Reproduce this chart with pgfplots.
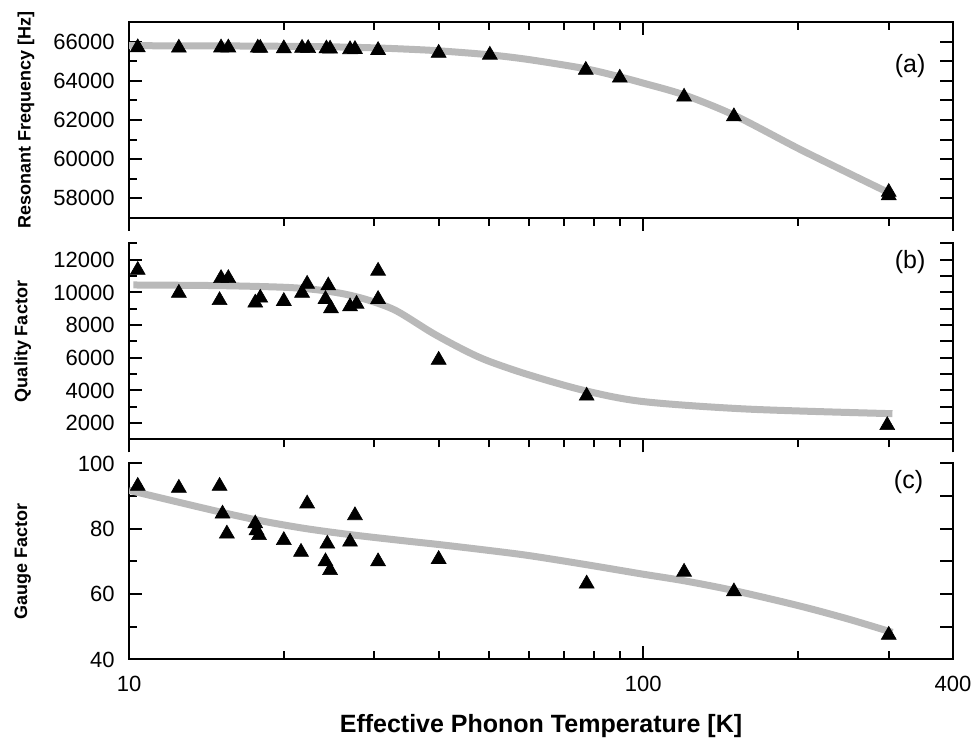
\documentclass[border=0pt]{standalone}
\usepackage{pgfplots}
\pgfplotsset{compat=1.18}
\usepackage{fontspec}
\setmainfont{Liberation Sans}
\definecolor{fitgray}{RGB}{185,185,185}
\pgfplotsset{
  every axis/.append style={
    scale only axis, width=412pt, height=98pt,
    scaled y ticks=false, scaled x ticks=false,
    axis line style={line width=1pt, line cap=rect},
    tick style={line width=1pt, black},
    major tick length=6.5pt, minor tick length=4pt,
    tick label style={font=\fontsize{11}{13}\selectfont},
    yticklabel style={inner sep=0pt, xshift=-7pt},
    xticklabel style={inner sep=0pt, yshift=-8pt},
  },
}
\begin{document}
\begin{tikzpicture}
\path[use as bounding box] (0,0) rectangle (488pt,-371pt);
% ---------------- panel (a)
\begin{axis}[xmode=log, xmin=10, xmax=400, anchor=north west, at={(64.5pt,-11pt)}, ymin=57000, ymax=67000,
  axis x line*=bottom, axis y line*=left, xtick pos=left, ytick pos=left,
  xtick align=outside, ytick align=inside,
  xtick={10,100,400}, minor xtick={20,30,40,50,60,70,80,90,200,300}, xticklabels={},
  ytick={58000,60000,62000,64000,66000}, yticklabels={58000,60000,62000,64000,66000},
  minor ytick={57000,59000,61000,63000,65000,67000},
  ylabel={Resonant Frequency [Hz]},
  ylabel style={font=\bfseries\fontsize{9}{11}\selectfont, anchor=center, at={(axis description cs:-0.125,0.5)}}]
\addplot[fitgray, line width=3.5pt, smooth, no markers] table {
10 65790
15 65780
20 65760
25 65730
30 65680
35 65610
40 65530
50 65330
60 65080
77 64620
90 64200
100 63880
120 63280
150 62250
200 60550
250 59300
305 58200
};
\addplot[only marks, mark=triangle*, mark size=4.3pt, mark options={fill=black, draw=black, line width=0.3pt}] table {
10.4 65700
12.5 65680
15.1 65690
15.6 65690
17.8 65680
18.0 65670
20.0 65650
21.7 65670
22.3 65660
24.2 65640
24.6 65630
26.9 65600
27.5 65610
30.5 65560
40.0 65420
50.3 65320
77.3 64550
90.0 64150
120 63180
150 62180
300 58320
300 58150
};
\node[font=\fontsize{12.5}{15}\selectfont] at (axis description cs:0.948,0.776) {(a)};
\end{axis}
\begin{axis}[xmode=log, xmin=10, xmax=400, anchor=north west, at={(64.5pt,-11pt)}, ymin=57000, ymax=67000,
  axis x line*=top, axis y line*=right, xtick pos=right, ytick pos=right,
  xtick align=inside, ytick align=inside, xticklabels={}, yticklabels={},
  xtick={10,100,400}, minor xtick={20,30,40,50,60,70,80,90,200,300},
  ytick={57000,58000,...,67000}, minor ytick={}]
\addplot[draw=none, forget plot] coordinates {(20,60000)};
\end{axis}
% ---------------- panel (b)
\begin{axis}[xmode=log, xmin=10, xmax=400, anchor=north west, at={(64.5pt,-121.75pt)}, ymin=1000, ymax=13000,
  axis x line*=bottom, axis y line*=left, xtick pos=left, ytick pos=left,
  xtick align=outside, ytick align=inside,
  xtick={10,100,400}, minor xtick={20,30,40,50,60,70,80,90,200,300}, xticklabels={},
  ytick={2000,4000,6000,8000,10000,12000}, yticklabels={2000,4000,6000,8000,10000,12000},
  minor ytick={1000,3000,5000,7000,9000,11000,13000},
  ylabel={Quality Factor},
  ylabel style={font=\bfseries\fontsize{9}{11}\selectfont, anchor=center, at={(axis description cs:-0.129,0.5)}}]
\addplot[fitgray, line width=3.5pt, smooth, no markers] table {
10.2 10460
15 10420
20 10320
23 10180
26 9930
29 9560
33 8900
39 7500
45 6450
50 5800
60 4950
77 3990
100 3320
160 2860
305 2580
};
\addplot[only marks, mark=triangle*, mark size=4.3pt, mark options={fill=black, draw=black, line width=0.3pt}] table {
10.4 11370
12.5 9970
15.1 10870
15.6 10870
15.0 9520
17.6 9370
18.0 9670
20.0 9470
21.7 9970
22.2 10520
24.4 10420
24.1 9590
24.7 9020
26.9 9140
27.7 9300
30.5 11320
30.5 9590
40 5870
77.6 3670
298 1870
};
\node[font=\fontsize{12.5}{15}\selectfont] at (axis description cs:0.948,0.903) {(b)};
\end{axis}
\begin{axis}[xmode=log, xmin=10, xmax=400, anchor=north west, at={(64.5pt,-121.75pt)}, ymin=1000, ymax=13000,
  hide x axis, axis y line*=right, ytick pos=right, ytick align=inside, yticklabels={},
  ytick={1000,2000,...,13000}, minor ytick={}]
\addplot[draw=none, forget plot] coordinates {(20,5000)};
\end{axis}
% ---------------- panel (c)
\begin{axis}[xmode=log, xmin=10, xmax=400, anchor=north west, at={(64.5pt,-231.75pt)}, ymin=40, ymax=100,
  axis x line*=bottom, axis y line*=left, xtick pos=left, ytick pos=left,
  xtick align=inside, ytick align=inside,
  xtick={10,100,400}, minor xtick={20,30,40,50,60,70,80,90,200,300}, xticklabels={10,100,400},
  ytick={40,60,80,100}, yticklabels={40,60,80,100},
  minor ytick={50,70,90},
  ylabel={Gauge Factor},
  ylabel style={font=\bfseries\fontsize{9}{11}\selectfont, anchor=center, at={(axis description cs:-0.129,0.5)}},
  xlabel={Effective Phonon Temperature [K]},
  xlabel style={font=\bfseries\fontsize{12.5}{15}\selectfont, at={(axis description cs:0.5,-0.337)}, anchor=center}]
\addplot[fitgray, line width=3.5pt, smooth, no markers] table {
10 91.8
12 88.8
15 85.2
18 82.5
22 80.1
27 78.2
34 76.4
40 75.2
50 73.4
60 71.8
77 69.1
100 66.1
120 64.1
150 61.1
200 56.5
250 52.4
305 48.3
};
\addplot[only marks, mark=triangle*, mark size=4.3pt, mark options={fill=black, draw=black, line width=0.3pt}] table {
10.4 93.1
12.5 92.5
15.0 93.1
15.2 84.6
15.5 78.5
17.6 81.6
17.7 79.5
17.9 78.0
20.0 76.5
21.6 72.9
22.2 87.7
24.3 75.4
24.1 70.0
24.6 67.3
26.9 76.0
27.5 84.1
30.5 70.0
40.0 70.7
77.6 63.2
120 66.8
150 60.8
300 47.5
};
\node[font=\fontsize{12.5}{15}\selectfont] at (axis description cs:0.946,0.905) {(c)};
\end{axis}
\begin{axis}[xmode=log, xmin=10, xmax=400, anchor=north west, at={(64.5pt,-231.75pt)}, ymin=40, ymax=100,
  hide x axis, axis y line*=right, ytick pos=right, ytick align=inside, yticklabels={},
  ytick={40,50,...,100}, minor ytick={}]
\addplot[draw=none, forget plot] coordinates {(20,50)};
\end{axis}
\end{tikzpicture}
\end{document}
